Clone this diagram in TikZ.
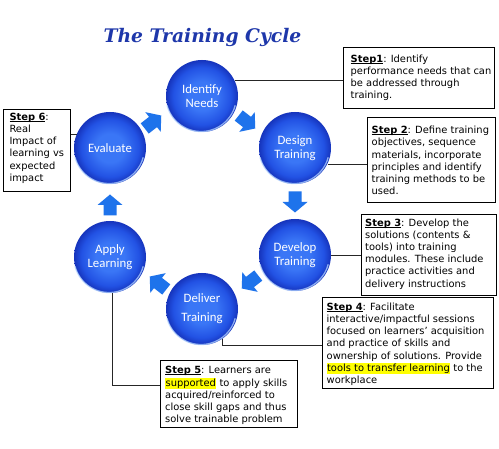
\documentclass[tikz,border=0pt]{standalone}
\usepackage{fontspec}
\setmainfont{DejaVu Sans}
\newfontfamily\titlefont{DejaVu Serif}
\newfontfamily\circfont{Carlito}
\usetikzlibrary{calc}
\definecolor{titleblue}{RGB}{30,55,170}
\definecolor{arrowblue}{RGB}{30,115,235}
\definecolor{ballin}{RGB}{58,118,246}
\definecolor{ballmid}{RGB}{34,82,228}
\definecolor{ballout}{RGB}{22,52,188}
\definecolor{rimcol}{RGB}{180,212,255}
\definecolor{hlyellow}{RGB}{255,255,0}
\pgfdeclareradialshading{sphere}{\pgfpoint{0bp}{0bp}}{color(0bp)=(ballin); color(10bp)=(ballin); color(20bp)=(ballmid); color(25bp)=(ballout); color(50bp)=(ballout)}
\newcommand\hlt[1]{{\setlength{\fboxsep}{0.4pt}\colorbox{hlyellow}{\rule[-2.6pt]{0pt}{10.8pt}#1}}}
\newsavebox\stpbox
\newcommand\stp[1]{\sbox\stpbox{\textbf{#1}}\rlap{\rule[-1.4pt]{\wd\stpbox}{0.7pt}}\usebox\stpbox}
\begin{document}
\begin{tikzpicture}[x={(1pt,0)}, y={(0,-1pt)},
  ball/.style={circle, minimum size=72pt, inner sep=0pt, shading=sphere, text=white,
    font=\circfont\fontsize{12.8}{14}\selectfont, align=center},
  stepbox/.style={draw=black, line width=0.8pt, rectangle, anchor=north west, inner sep=0pt},
  steptext/.style={anchor=north west, inner sep=0pt, align=left, font=\fontsize{9.9}{12.2}\selectfont},
  leader/.style={draw=black!85, line width=0.7pt},
  rim/.style={draw=rimcol, line width=1.3pt, opacity=0.75},
  barrow/.pic={\fill[arrowblue] (-10.5,-6.5) -- (0,-6.5) -- (0,-12.5) -- (10.5,0) -- (0,12.5) -- (0,6.5) -- (-10.5,6.5) -- cycle;}
]
\fill[white] (0,0) rectangle (499,449);
\useasboundingbox (0,0) rectangle (499,449);

% title
\node[font=\titlefont\bfseries\itshape\fontsize{18.7}{20}\selectfont, text=titleblue, anchor=base, inner sep=0pt] (title) at (202.5,43) {The Training Cycle};

% circles
\node[ball] (idn) at (202,96) {Identify\\Needs};
\node[ball] (dsn) at (295,148) {Design\\Training};
\node[ball] (dev) at (295,255) {Develop\\Training};
\node[ball] (del) at (202,309) {Deliver\\[5pt]Training};
\node[ball] (app) at (110,257) {Apply\\Learning};
\node[ball] (evl) at (110,148) {Evaluate};

\foreach \c in {idn,dsn,dev,del,app,evl}{
  \draw[rim] (\c.195) arc[start angle=195, end angle=345, radius=35.3pt];
}

% block arrows
\pic[rotate=38] at (153,122) {barrow};
\pic[rotate=-38] at (247,122) {barrow};
\pic[rotate=-90] at (295,202) {barrow};
\pic[rotate=-142] at (250,282) {barrow};
\pic[rotate=142] at (158,283) {barrow};
\pic[rotate=90] at (110,205) {barrow};

% step boxes
\node[stepbox, minimum width=151pt, minimum height=61pt] (s1) at (343,47) {};
\node[steptext] (t1) at (350.5,53.6) {\strut\stp{Step1}: Identify\\performance needs that can\\be addressed through\\training.};

\node[stepbox, minimum width=128pt, minimum height=85pt] (s2) at (367,117) {};
\node[steptext] (t2) at (371.5,125) {\strut\stp{Step 2}: Define training\\objectives, sequence\\materials, incorporate\\principles and identify\\training methods to be\\used.};

\node[stepbox, minimum width=135pt, minimum height=81pt] (s3) at (361,214) {};
\node[steptext] (t3) at (365,217.3) {\strut\stp{Step 3}: Develop the\\solutions (contents \&\\tools) into training\\modules. These include\\practice activities and\\delivery instructions};

\node[stepbox, minimum width=171pt, minimum height=91pt] (s4) at (322,297) {};
\node[steptext] (t4) at (326.5,301.6) {\strut\stp{Step 4}: Facilitate\\interactive/impactful sessions\\focused on learners’ acquisition\\and practice of skills and\\ownership of solutions. Provide\\\hlt{tools to transfer learning} to the\\workplace};

\node[stepbox, minimum width=137pt, minimum height=67pt] (s5) at (160,360) {};
\node[steptext] (t5) at (165,364.3) {\strut\stp{Step 5}: Learners are\\\hlt{supported} to apply skills\\acquired/reinforced to\\close skill gaps and thus\\solve trainable problem};

\node[stepbox, minimum width=67pt, minimum height=82pt] (s6) at (3,109) {};
\node[steptext] (t6) at (9.3,111.6) {\strut\stp{Step 6}:\\Real\\Impact of\\learning vs\\expected\\impact};

% leader lines
\draw[leader] (idn.25) -- (idn.25 -| s1.west);
\draw[leader] (dsn.-26) -- (dsn.-26 -| s2.west);
\draw[leader] (dev.east) -- (dev.east -| s3.west);
\draw[leader] (del.-55) |- ($(s4.north west)!0.53!(s4.south west)$);
\draw[leader] (app.-87) |- ($(s5.north west)!0.37!(s5.south west)$);
\draw[leader] (evl.157) -- (evl.157 -| s6.east);
\end{tikzpicture}
\end{document}
